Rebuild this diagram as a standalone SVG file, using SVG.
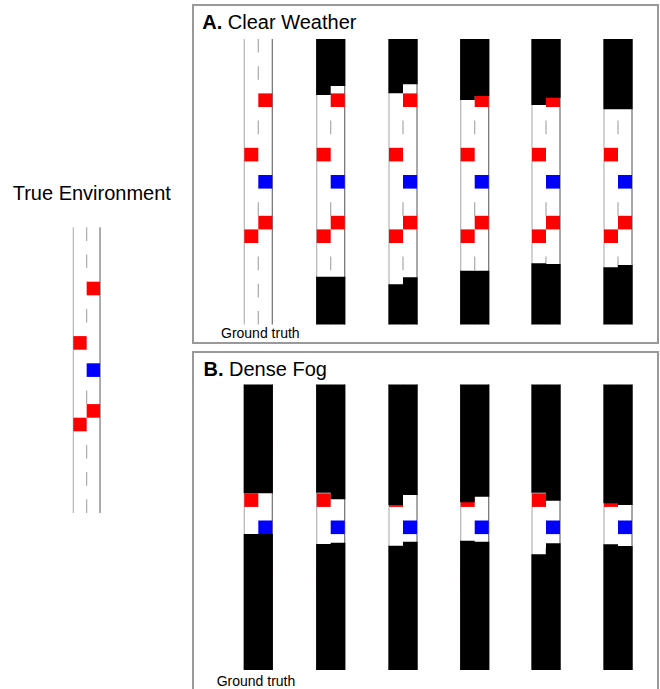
<svg xmlns="http://www.w3.org/2000/svg" xmlns:xlink="http://www.w3.org/1999/xlink" width="660" height="689" viewBox="0 0 660 689">
<style>
text{font-family:"Liberation Sans",Arial,sans-serif;fill:#000}
.title{font-size:20px}
.gt{font-size:14px}
.frame{fill:none;stroke:#999;stroke-width:2}
.ll{stroke:#b4b4b4;stroke-width:1.2;fill:none}
.rl{stroke:#6e6e6e;stroke-width:1.2;fill:none}
.dash{stroke:#a8a8a8;stroke-width:1.2;fill:none}
.red{fill:#ff0000}
.blue{fill:#0000ff}
.mask{fill:#000}
</style>
<defs>
<g id="road">
<line class="ll" x1="0" y1="0" x2="0" y2="285.6"/>
<line class="rl" x1="28" y1="0" x2="28" y2="285.6"/>
<path class="dash" d="M14 0v13.6M14 27.2v13.6M14 81.6v13.6M14 163.2v13.6M14 217.6v13.6M14 244.8v13.6M14 272v13.6"/>
<rect class="red" x="14" y="54.4" width="14" height="13.6"/>
<rect class="red" x="0" y="108.8" width="14" height="13.6"/>
<rect class="blue" x="14" y="136" width="14" height="13.6"/>
<rect class="red" x="14" y="176.8" width="14" height="13.6"/>
<rect class="red" x="0" y="190.4" width="14" height="13.6"/>
</g>
</defs>

<g id="true-environment">
<text class="title" x="12.7" y="200">True Environment</text>
<use xlink:href="#road" href="#road" transform="translate(73.3,227.3) scale(0.955,1)"/>
</g>

<g id="panel-a">
<rect class="frame" x="193" y="5" width="465" height="338"/>
<text class="title" x="202.3" y="28.5"><tspan font-weight="bold">A.</tspan> Clear Weather</text>
<g id="a1" transform="translate(244.3,39)">
<use xlink:href="#road" href="#road"/>
</g>
<g id="a2" transform="translate(316.7,39)">
<use xlink:href="#road" href="#road"/>
<path class="mask" d="M-0.6 0H28.6V47H14V56H-0.6Z"/>
<path class="mask" d="M-0.6 237.7H28.6V285.6H-0.6Z"/>
</g>
<g id="a3" transform="translate(389,39)">
<use xlink:href="#road" href="#road"/>
<path class="mask" d="M-0.6 0H28.6V45.3H14V54.3H-0.6Z"/>
<path class="mask" d="M-0.6 245.3H14V238.3H28.6V285.6H-0.6Z"/>
</g>
<g id="a4" transform="translate(460.7,39)">
<use xlink:href="#road" href="#road"/>
<path class="mask" d="M-0.6 0H28.6V57H14V61H-0.6Z"/>
<path class="mask" d="M-0.6 231.7H28.6V285.6H-0.6Z"/>
</g>
<g id="a5" transform="translate(532,39)">
<use xlink:href="#road" href="#road"/>
<path class="mask" d="M-0.6 0H28.6V58.7H14V66H-0.6Z"/>
<path class="mask" d="M-0.6 224.3H14V225H28.6V285.6H-0.6Z"/>
</g>
<g id="a6" transform="translate(604,39)">
<use xlink:href="#road" href="#road"/>
<path class="mask" d="M-0.6 0H28.6V70.3H-0.6Z"/>
<path class="mask" d="M-0.6 228.3H14V226H28.6V285.6H-0.6Z"/>
</g>
<text class="gt" x="221" y="338.3">Ground truth</text>
</g>

<g id="panel-b">
<rect class="frame" x="193" y="352" width="465" height="345"/>
<text class="title" x="203.5" y="375.7"><tspan font-weight="bold">B.</tspan> Dense Fog</text>
<g id="b1" transform="translate(244.3,384.5)">
<use xlink:href="#road" href="#road"/>
<path class="mask" d="M-0.6 0H28.6V108.8H-0.6Z"/>
<path class="mask" d="M-0.6 149.6H28.6V285.6H-0.6Z"/>
</g>
<g id="b2" transform="translate(316.7,384.5)">
<use xlink:href="#road" href="#road"/>
<path class="mask" d="M-0.6 0H28.6V114.8H14V108.3H-0.6Z"/>
<path class="mask" d="M-0.6 159.5H14V158.2H28.6V285.6H-0.6Z"/>
</g>
<g id="b3" transform="translate(389,384.5)">
<use xlink:href="#road" href="#road"/>
<path class="mask" d="M-0.6 0H28.6V110.5H14V120.5H-0.6Z"/>
<path class="mask" d="M-0.6 161.2H14V157.2H28.6V285.6H-0.6Z"/>
</g>
<g id="b4" transform="translate(460.7,384.5)">
<use xlink:href="#road" href="#road"/>
<path class="mask" d="M-0.6 0H28.6V112.2H14V117.8H-0.6Z"/>
<path class="mask" d="M-0.6 156.2H14V157.2H28.6V285.6H-0.6Z"/>
</g>
<g id="b5" transform="translate(532,384.5)">
<use xlink:href="#road" href="#road"/>
<path class="mask" d="M-0.6 0H28.6V116.2H14V108.3H-0.6Z"/>
<path class="mask" d="M-0.6 169.8H14V158.8H28.6V285.6H-0.6Z"/>
</g>
<g id="b6" transform="translate(604,384.5)">
<use xlink:href="#road" href="#road"/>
<path class="mask" d="M-0.6 0H28.6V120.5H14V118.8H-0.6Z"/>
<path class="mask" d="M-0.6 159.8H14V161.5H28.6V285.6H-0.6Z"/>
</g>
<text class="gt" x="216.7" y="685.7">Ground truth</text>
</g>
</svg>
